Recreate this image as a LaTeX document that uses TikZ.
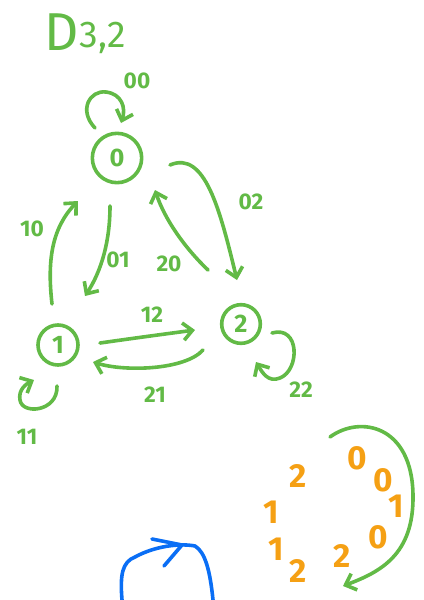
\documentclass[tikz,border=0pt]{standalone}
\usepackage{fontspec}
\setmainfont{Fira Sans}
\usetikzlibrary{arrows.meta}
\definecolor{pen}{RGB}{98,186,70}
\definecolor{ink}{RGB}{245,160,20}
\definecolor{sky}{RGB}{10,110,245}
\tikzset{
  stroke/.style={draw=pen, line width=2.7pt, line cap=round, line join=round},
  arr/.style={stroke, -{Straight Barb[length=7pt,width=13pt,line width=2.7pt]}},
  state/.style={circle, stroke, minimum size=30pt, inner sep=0pt, text=pen,
    font=\fontsize{19}{19}\selectfont\bfseries},
  lbl/.style={text=pen, inner sep=0pt, font=\fontsize{17}{17}\selectfont\bfseries},
  seq/.style={text=ink, inner sep=0pt, font=\fontsize{25}{25}\selectfont\bfseries}
}
\begin{document}
\begin{tikzpicture}[x=0.75pt,y=-0.75pt]
\useasboundingbox (0,0) rectangle (424,600);

% title
\node[text=pen, inner sep=0pt, anchor=base west, font=\fontsize{40}{40}\selectfont] (title) at (44,50)
  {D\kern1pt\raisebox{0.1ex}{\fontsize{28}{28}\selectfont 3,2}};

% states
\node[state, minimum size=37pt] (n0) at (117,158) {0};
\node[state] (n1) at (58,345) {1};
\node[state, minimum size=29pt] (n2) at (241,324) {2};

% loop on 0
\coordinate (l0a) at (95,128);
\coordinate (l0b) at (121,123);
\draw[arr] (l0a) .. controls (78,110) and (90,90) .. (106,92)
  .. controls (122,94) and (126,108) .. (l0b);
\node[lbl] (t00) at (137,81) {00};

% 0 -> 1 and 1 -> 0
\coordinate (e01a) at (110,206);
\coordinate (e01b) at (85,296);
\draw[arr] (e01a) .. controls (110,240) and (102,270) .. (e01b);
\node[lbl] (t01) at (118,260) {01};

\coordinate (e10a) at (52,304);
\coordinate (e10b) at (78,201);
\draw[arr] (e10a) .. controls (47,260) and (52,228) .. (e10b);
\node[lbl] (t10) at (32,229) {10};

% 0 -> 2 and 2 -> 0
\coordinate (e02a) at (170,165);
\coordinate (e02b) at (237,280);
\draw[arr] (e02a) .. controls (205,150) and (220,210) .. (e02b);
\node[lbl] (t02) at (251,202) {02};

\coordinate (e20a) at (208,270);
\coordinate (e20b) at (155,190);
\draw[arr] (e20a) .. controls (185,248) and (165,220) .. (e20b);
\node[lbl] (t20) at (169,264) {20};

% 1 -> 2 and 2 -> 1
\coordinate (e12a) at (100,343);
\coordinate (e12b) at (195,330);
\draw[arr] (e12a) .. controls (135,338) and (165,334) .. (e12b);
\node[lbl] (t12) at (152,315) {12};

\coordinate (e21a) at (203,350);
\coordinate (e21b) at (93,362);
\draw[arr] (e21a) .. controls (185,370) and (125,372) .. (e21b);
\node[lbl] (t21) at (155,395) {21};

% loop on 1
\coordinate (l1a) at (57,386);
\coordinate (l1b) at (34,380);
\draw[arr] (l1a) .. controls (58,412) and (22,415) .. (20,400)
  .. controls (18,390) and (26,384) .. (l1b);
\node[lbl] (t11) at (27,437) {11};

% loop on 2
\coordinate (l2a) at (272,333);
\coordinate (l2b) at (256,362);
\draw[arr] (l2a) .. controls (300,325) and (300,370) .. (280,378)
  .. controls (268,383) and (262,372) .. (l2b);
\node[lbl] (t22) at (301,390) {22};

% cyclic word
\node[seq] (s1) at (298,476) {2};
\node[seq] (s2) at (357,458) {0};
\node[seq] (s3) at (383,480) {0};
\node[seq] (s4) at (396,506) {1};
\node[seq] (s5) at (378,537) {0};
\node[seq] (s6) at (342,556) {2};
\node[seq] (s7) at (298,571) {2};
\node[seq] (s8) at (276,549) {1};
\node[seq] (s9) at (271,512) {1};

% direction of reading
\coordinate (ca) at (330,437);
\coordinate (cb) at (343,586);
\draw[arr] (ca) .. controls (360,415) and (412,425) .. (413,495)
  .. controls (414,555) and (380,572) .. (cb);

% blue loop at the bottom edge
\coordinate (ba) at (122,600);
\coordinate (bb) at (213,600);
\draw[draw=sky, line width=2.7pt, line cap=round, line join=round]
  (ba) .. controls (120,575) and (122,562) .. (135,557)
  .. controls (155,546) and (180,543) .. (195,546)
  .. controls (205,552) and (210,570) .. (bb);
\coordinate (bh) at (182,545);
\draw[draw=sky, line width=2.7pt, line cap=round, line join=round]
  (152,539) -- (bh) -- (164,566);
\end{tikzpicture}
\end{document}
